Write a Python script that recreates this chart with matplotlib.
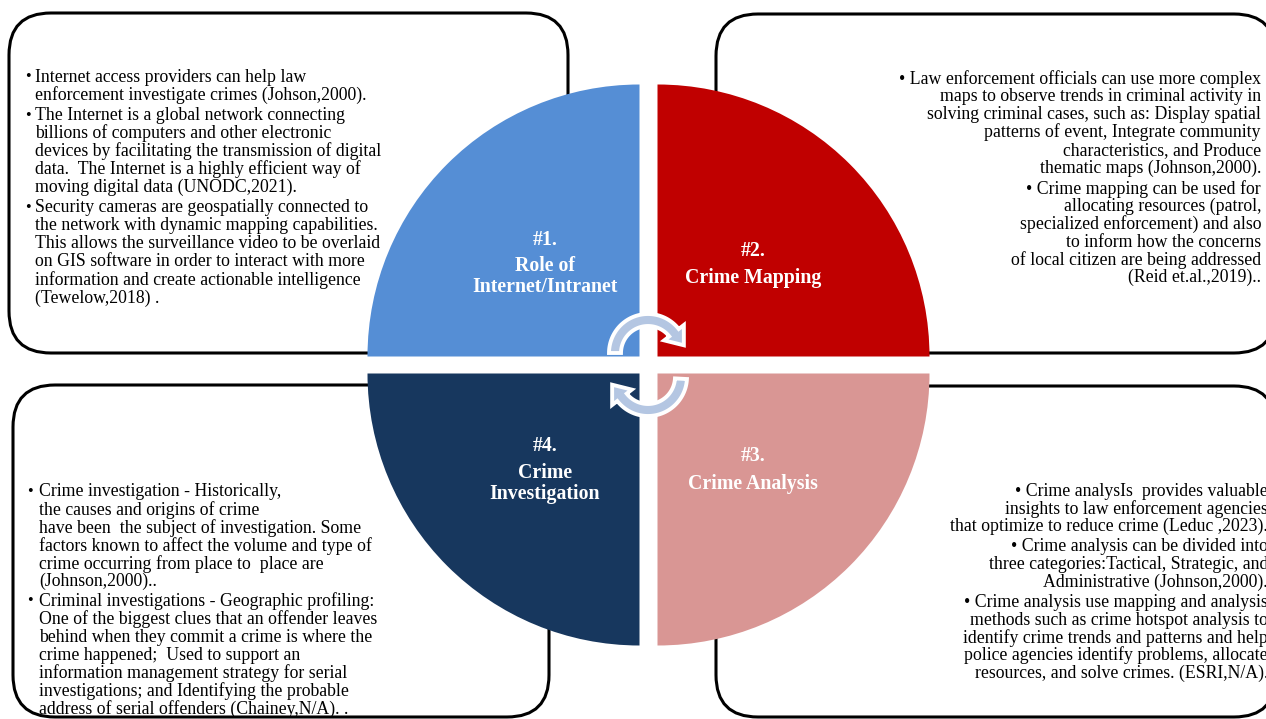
import numpy as np
import matplotlib.pyplot as plt
from matplotlib.patches import FancyBboxPatch, Wedge, Polygon

plt.rcParams["font.family"] = ["Liberation Serif", "DejaVu Serif"]

W, H = 1266, 719

# quadrant titles and colours (clockwise from top-left)
titles = [
    ["#1.", "Role of", "Internet/Intranet"],
    ["#2.", "Crime Mapping"],
    ["#3.", "Crime Analysis"],
    ["#4.", "Crime", "Investigation"],
]
colors = ["#558ED5", "#C00000", "#D99694", "#17375E"]

# text of the four boxes, one list per bullet, one string per line
items_tl = [
    ["Internet access providers can help law",
     "enforcement investigate crimes (Johson,2000)."],
    ["The Internet is a global network connecting",
     "billions of computers and other electronic",
     "devices by facilitating the transmission of digital",
     "data.  The Internet is a highly efficient way of",
     "moving digital data (UNODC,2021)."],
    ["Security cameras are geospatially connected to",
     "the network with dynamic mapping capabilities.",
     "This allows the surveillance video to be overlaid",
     "on GIS software in order to interact with more",
     "information and create actionable intelligence",
     "(Tewelow,2018) ."],
]
items_tr = [
    ["• Law enforcement officials can use more complex",
     "maps to observe trends in criminal activity in",
     "solving criminal cases, such as: Display spatial",
     "patterns of event, Integrate community",
     "characteristics, and Produce",
     "thematic maps (Johnson,2000)."],
    ["• Crime mapping can be used for",
     "allocating resources (patrol,",
     "specialized enforcement) and also",
     "to inform how the concerns",
     "of local citizen are being addressed",
     "(Reid et.al.,2019).."],
]
items_bl = [
    ["Crime investigation - Historically,",
     "the causes and origins of crime",
     "have been  the subject of investigation. Some",
     "factors known to affect the volume and type of",
     "crime occurring from place to  place are",
     "(Johnson,2000).."],
    ["Criminal investigations - Geographic profiling:",
     "One of the biggest clues that an offender leaves",
     "behind when they commit a crime is where the",
     "crime happened;  Used to support an",
     "information management strategy for serial",
     "investigations; and Identifying the probable",
     "address of serial offenders (Chainey,N/A). ."],
]
items_br = [
    ["• Crime analysIs  provides valuable",
     "insights to law enforcement agencies",
     "that optimize to reduce crime (Leduc ,2023)."],
    ["• Crime analysis can be divided into",
     "three categories:Tactical, Strategic, and",
     "Administrative (Johnson,2000)."],
    ["• Crime analysis use mapping and analysis",
     "methods such as crime hotspot analysis to",
     "identify crime trends and patterns and help",
     "police agencies identify problems, allocate",
     "resources, and solve crimes. (ESRI,N/A)."],
]

fig = plt.figure(figsize=(W / 100, H / 100), dpi=100)
ax = fig.add_axes([0, 0, 1, 1])
ax.set_xlim(0, W)
ax.set_ylim(H, 0)
ax.axis("off")

# rounded boxes behind the circle
boxes = [(9, 13, 559, 340), (716, 14, 560, 339), (13, 385, 536, 332), (716, 386, 560, 331)]
for x, y, w, h in boxes:
    ax.add_patch(FancyBboxPatch((x, y), w, h, boxstyle="round,pad=0,rounding_size=42",
                                fc="white", ec="black", lw=2.2, zorder=1))

# exploded circle, four quadrants
r = 272
centers = [(639.5, 356.5), (657.5, 356.5), (657.5, 373.5), (639.5, 373.5)]
angles = [(180, 270), (270, 360), (0, 90), (90, 180)]  # y axis is inverted
for (cx, cy), (t1, t2), c in zip(centers, angles, colors):
    ax.add_patch(Wedge((cx, cy), r, t1, t2, fc=c, ec="none", zorder=2))

# quadrant titles
title_pos = [(545, [240, 266, 287]), (753, [251, 278]), (753, [456, 484]), (545, [446, 473, 494])]
for lines, (tx, ys) in zip(titles, title_pos):
    for s, ty in zip(lines, ys):
        ax.text(tx, ty, s, color="white", fontsize=14.3, fontweight="bold",
                ha="center", va="center", zorder=5)


def curved_arrow(cx, cy, rc, t_start, t_end, half=6, head_half=12.5, head_len=16):
    """Thick arc arrow going clockwise (visually) from t_start to t_end, degrees."""
    ts = np.radians(np.linspace(t_start, t_end, 60))
    outer = [(cx + (rc + half) * np.cos(t), cy - (rc + half) * np.sin(t)) for t in ts]
    inner = [(cx + (rc - half) * np.cos(t), cy - (rc - half) * np.sin(t)) for t in ts[::-1]]
    te = ts[-1]
    bx, by = cx + rc * np.cos(te), cy - rc * np.sin(te)
    dx, dy = np.sin(te), np.cos(te)  # clockwise tangent in pixel coords
    tip = (bx + head_len * dx, by + head_len * dy)
    ho = (cx + (rc + head_half) * np.cos(te), cy - (rc + head_half) * np.sin(te))
    hi = (cx + (rc - head_half) * np.cos(te), cy - (rc - head_half) * np.sin(te))
    pts = outer + [ho, tip, hi] + inner
    ax.add_patch(Polygon(pts, closed=True, fc="#B4C6E2", ec="white", lw=2.8, zorder=4))


curved_arrow(648, 353, 33, 180, 38)
curved_arrow(648, 377, 33, -3, -142)

# box texts
fs = 12.8
col = "black"


def left_block(items, xb, xt, y0, dy, gap):
    y = y0
    for item in items:
        ax.text(xb, y, "•", fontsize=fs - 1, ha="left", va="center", color=col, zorder=6)
        for line in item:
            ax.text(xt, y, line, fontsize=fs, ha="left", va="center", color=col, zorder=6)
            y += dy
        y += gap


def right_block(items, xr, y0, dy, gap):
    y = y0
    for item in items:
        for line in item:
            ax.text(xr, y, line, fontsize=fs, ha="right", va="center", color=col, zorder=6)
            y += dy
        y += gap


left_block(items_tl, 25, 35, 77, 18.0, 2.5)
right_block(items_tr, 1261, 79, 17.8, 3.0)
left_block(items_bl, 27, 39, 492, 17.9, 2.0)
right_block(items_br, 1268, 491, 17.6, 3.0)

fig.savefig("out.png", dpi=100)
